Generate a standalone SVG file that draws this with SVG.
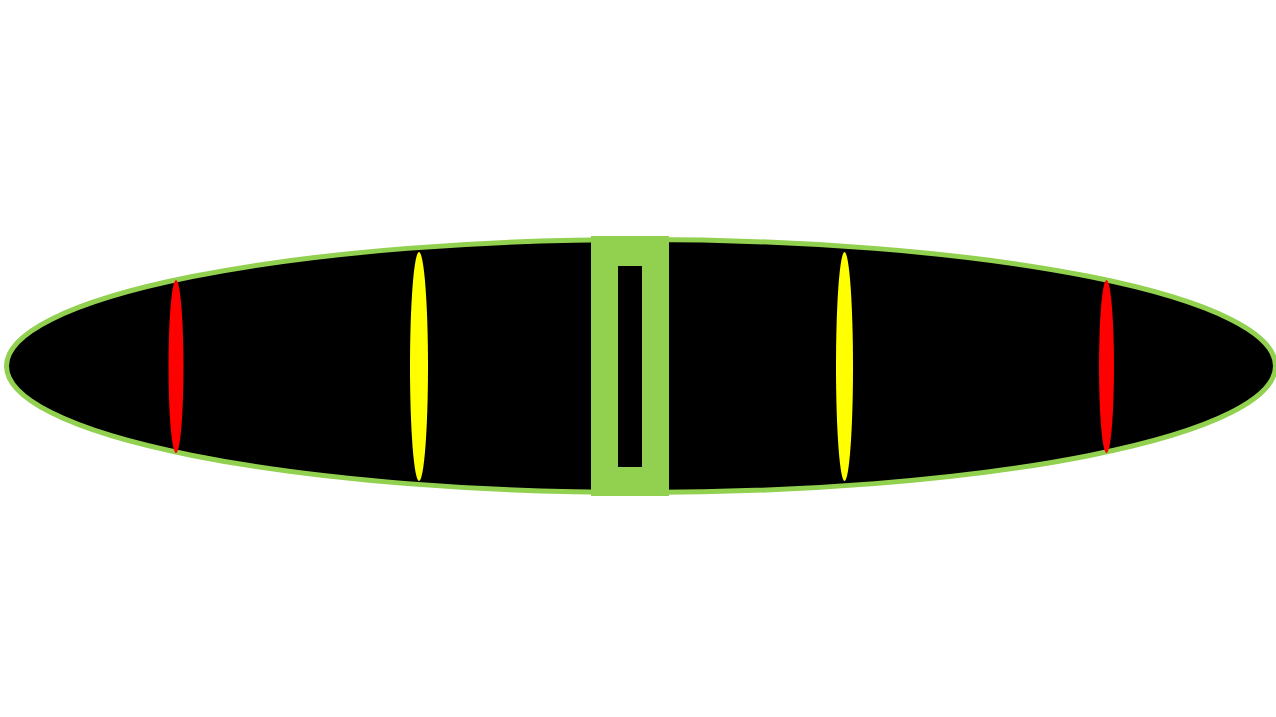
<svg xmlns="http://www.w3.org/2000/svg" width="1276" height="717" viewBox="0 0 1276 717">
<style>
.red{fill:#ff0000}
.yel{fill:#ffff00}
</style>
<rect width="1276" height="717" fill="#ffffff"/>
<g id="body">
<ellipse cx="641" cy="366" rx="634.5" ry="126.5" fill="#000000" stroke="#92d050" stroke-width="5"/>
</g>
<g id="center-bar">
<rect x="591" y="236" width="78" height="260" fill="#92d050"/>
<rect x="618" y="266" width="24" height="201" fill="#000000"/>
</g>
<g id="red-left"><ellipse class="red" cx="176" cy="366.5" rx="7.5" ry="86.5"/></g>
<g id="yellow-left"><ellipse class="yel" cx="419" cy="366.5" rx="9" ry="114.5"/></g>
<g id="yellow-right"><ellipse class="yel" cx="844.5" cy="366.5" rx="8.5" ry="114.5"/></g>
<g id="red-right"><ellipse class="red" cx="1106.5" cy="366.5" rx="7.5" ry="86.5"/></g>
<g id="connectors"/>
</svg>
